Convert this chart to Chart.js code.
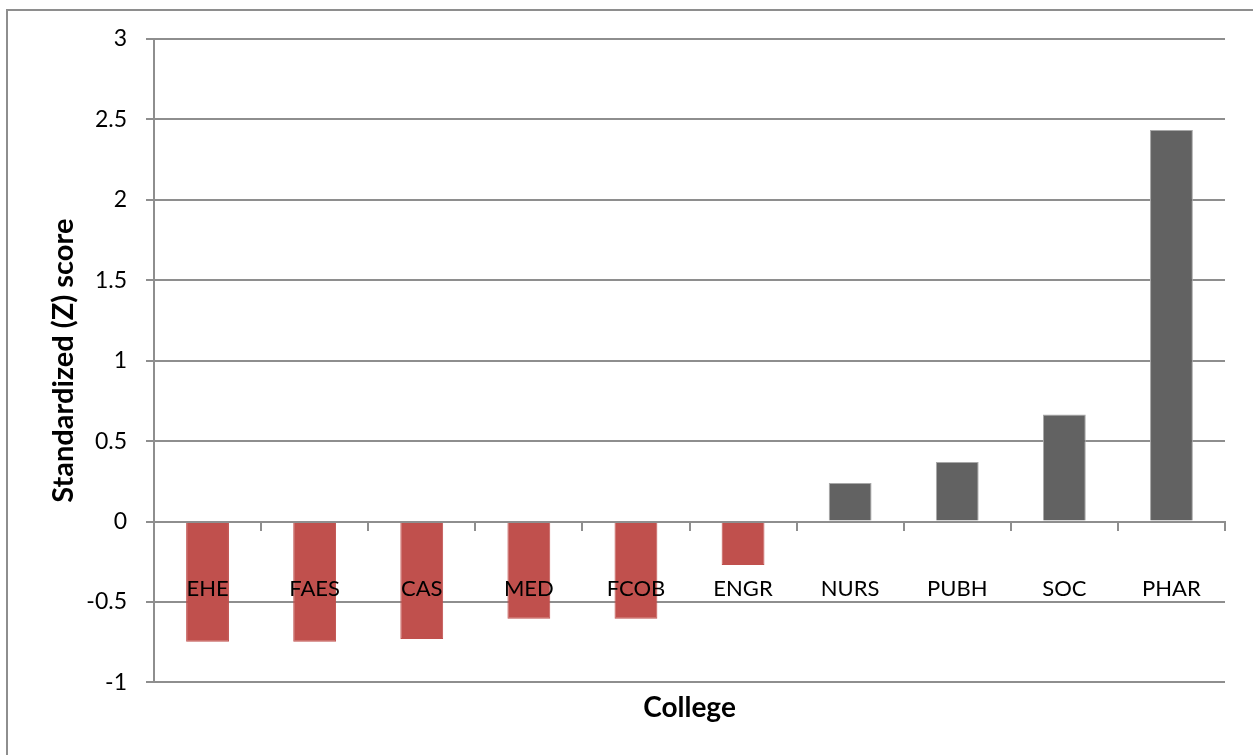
<!DOCTYPE html>
<html>
<head>
<meta charset="utf-8">
<script src="https://cdn.jsdelivr.net/npm/chart.js@4.4.0/dist/chart.umd.min.js"></script>
<style>
  html, body { margin: 0; padding: 0; background: #fff; overflow: hidden; }
  #wrap { position: relative; width: 1253px; height: 755px; }
  #frame { position: absolute; left: 6px; top: 9px; width: 1300px; height: 800px; border: 2px solid #8e8e8e; }
  #myChart { position: absolute; left: 0; top: 0; }
</style>
</head>
<body>
<div id="wrap">
  <div id="frame"></div>
  <canvas id="myChart" width="1253" height="755"></canvas>
</div>
<script>
// colleges, sorted by score
var colleges = ["EHE", "FAES", "CAS", "MED", "FCOB", "ENGR", "NURS", "PUBH", "SOC", "PHAR"];
var zScores = [-0.747, -0.747, -0.73, -0.605, -0.605, -0.27, 0.239, 0.37, 0.666, 2.435];
var yTicks = [-1, -0.5, 0, 0.5, 1, 1.5, 2, 2.5, 3];

var negColor = "#c0504d";
var posColor = "#626262";
var axisGray = "#8e8e8e";

var barColors = zScores.map(function (v) { return v < 0 ? negColor : posColor; });
var barBorders = zScores.map(function (v) { return v < 0 ? negColor : "#a8a8a8"; });

var ctx = document.getElementById("myChart").getContext("2d");
new Chart(ctx, {
  type: "bar",
  data: {
    labels: colleges,
    datasets: [
      {
        data: zScores,
        backgroundColor: barColors,
        borderColor: barBorders,
        borderWidth: 1,
        categoryPercentage: 1,
        barPercentage: 0.4,
      },
    ],
  },
  options: {
    responsive: false,
    animation: false,
    layout: { padding: { top: 39, right: 28, left: 0, bottom: 0 } },
    plugins: {
      legend: { display: false },
      tooltip: { enabled: false },
    },
    scales: {
      x: {
        type: "category",
        position: { y: 0 },
        offset: true,
        grid: {
          display: true,
          drawOnChartArea: false,
          drawTicks: true,
          tickLength: 8,
          offset: true,
          color: axisGray,
          lineWidth: 2,
          z: 1,
        },
        border: { display: true, color: axisGray, width: 2, z: 1 },
        ticks: {
          color: "#000",
          padding: 46,
          maxRotation: 0,
          z: 2,
          font: { family: "Lato", size: 22 },
        },
      },
      // bottom axis that only carries the "College" title
      xTitle: {
        type: "category",
        position: "bottom",
        grid: { display: false },
        border: { display: false },
        ticks: { display: false },
        title: {
          display: true,
          text: "College",
          color: "#000",
          font: { family: "Lato", size: 28, weight: "bold" },
          padding: { top: 1, bottom: 30 },
        },
      },
      y: {
        min: -1,
        max: 3,
        afterBuildTicks: function (scale) {
          scale.ticks = yTicks.map(function (v) { return { value: v }; });
        },
        afterFit: function (scale) { scale.width = 154; },
        grid: { color: axisGray, lineWidth: 2, tickLength: 8 },
        border: { display: true, color: axisGray, width: 2 },
        ticks: {
          color: "#000",
          padding: 19,
          font: { family: "Lato", size: 23 },
          callback: function (v) { return String(v); },
        },
        title: {
          display: true,
          text: "Standardized (Z) score",
          color: "#000",
          font: { family: "Lato", size: 29, weight: "bold" },
          padding: { top: 46, bottom: 0 },
        },
      },
    },
  },
});
</script>
</body>
</html>
